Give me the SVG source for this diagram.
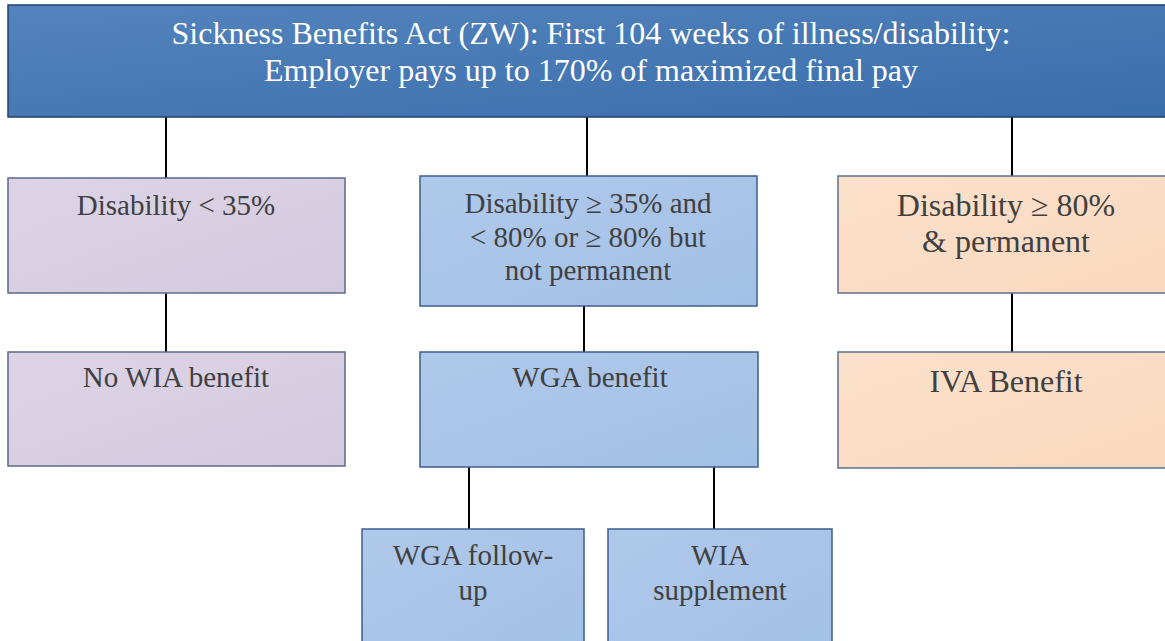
<svg xmlns="http://www.w3.org/2000/svg" width="1165" height="641" viewBox="0 0 1165 641">
<defs>
<linearGradient id="gTop" x1="0" y1="0" x2="1" y2="1">
<stop offset="0" stop-color="#5384bd"/>
<stop offset="1" stop-color="#3a6dab"/>
</linearGradient>
<linearGradient id="gPurple" x1="0" y1="0" x2="1" y2="1">
<stop offset="0" stop-color="#dcd4e6"/>
<stop offset="1" stop-color="#d4cae0"/>
</linearGradient>
<linearGradient id="gBlue" x1="0" y1="0" x2="1" y2="1">
<stop offset="0" stop-color="#afc9ea"/>
<stop offset="1" stop-color="#a3c0e6"/>
</linearGradient>
<linearGradient id="gPeach" x1="0" y1="0" x2="1" y2="1">
<stop offset="0" stop-color="#fbe0cb"/>
<stop offset="1" stop-color="#f9d9bf"/>
</linearGradient>
</defs>
<style>
.top{fill:url(#gTop);stroke:#203f6b;stroke-width:1.5}
.pur{fill:url(#gPurple);stroke:#5b6a88;stroke-width:1.5}
.blu{fill:url(#gBlue);stroke:#3e5f8c;stroke-width:1.5}
.pea{fill:url(#gPeach);stroke:#5f6f8c;stroke-width:1.5}
text{font-family:'Liberation Serif','Times New Roman',serif;text-anchor:middle}
.tt{fill:#ffffff;font-size:32px}
.nt{fill:#404040;font-size:29px}
.nl{fill:#404040;font-size:32px}
.conn line{stroke:#000000;stroke-width:2}
</style>
<rect width="1165" height="641" fill="#ffffff"/>
<g id="connectors" class="conn">
<line x1="166" y1="117" x2="166" y2="178"/>
<line x1="587" y1="117" x2="587" y2="176"/>
<line x1="1012" y1="117" x2="1012" y2="176"/>
<line x1="166" y1="293" x2="166" y2="352"/>
<line x1="584" y1="306" x2="584" y2="352"/>
<line x1="1012" y1="293" x2="1012" y2="352"/>
<line x1="469" y1="467" x2="469" y2="529"/>
<line x1="714" y1="467" x2="714" y2="529"/>
</g>
<g id="n-top">
<rect class="top" x="8" y="5" width="1170" height="112"/>
<text class="tt" x="591" y="44">Sickness Benefits Act (ZW): First 104 weeks of illness/disability:</text>
<text class="tt" x="591" y="81">Employer pays up to 170% of maximized final pay</text>
</g>
<g id="n-lt35">
<rect class="pur" x="8" y="178" width="337" height="115"/>
<text class="nt" x="176" y="215">Disability &lt; 35%</text>
</g>
<g id="n-mid">
<rect class="blu" x="420" y="176" width="337" height="130"/>
<text class="nt" x="588" y="213">Disability ≥ 35% and</text>
<text class="nt" x="588" y="247">&lt; 80% or ≥ 80% but</text>
<text class="nt" x="588" y="280">not permanent</text>
</g>
<g id="n-ge80">
<rect class="pea" x="838" y="176" width="340" height="117"/>
<text class="nl" x="1006" y="216">Disability ≥ 80%</text>
<text class="nl" x="1006" y="252">&amp; permanent</text>
</g>
<g id="n-nowia">
<rect class="pur" x="8" y="352" width="337" height="114"/>
<text class="nt" x="176" y="387">No WIA benefit</text>
</g>
<g id="n-wga">
<rect class="blu" x="420" y="352" width="338" height="115"/>
<text class="nt" x="590" y="387">WGA benefit</text>
</g>
<g id="n-iva">
<rect class="pea" x="838" y="352" width="340" height="116"/>
<text class="nl" x="1006" y="392">IVA Benefit</text>
</g>
<g id="n-followup">
<rect class="blu" x="362" y="529" width="222" height="130"/>
<text class="nt" x="473" y="565">WGA follow-</text>
<text class="nt" x="473" y="600">up</text>
</g>
<g id="n-supp">
<rect class="blu" x="608" y="529" width="224" height="130"/>
<text class="nt" x="720" y="565">WIA</text>
<text class="nt" x="720" y="600">supplement</text>
</g>
</svg>
